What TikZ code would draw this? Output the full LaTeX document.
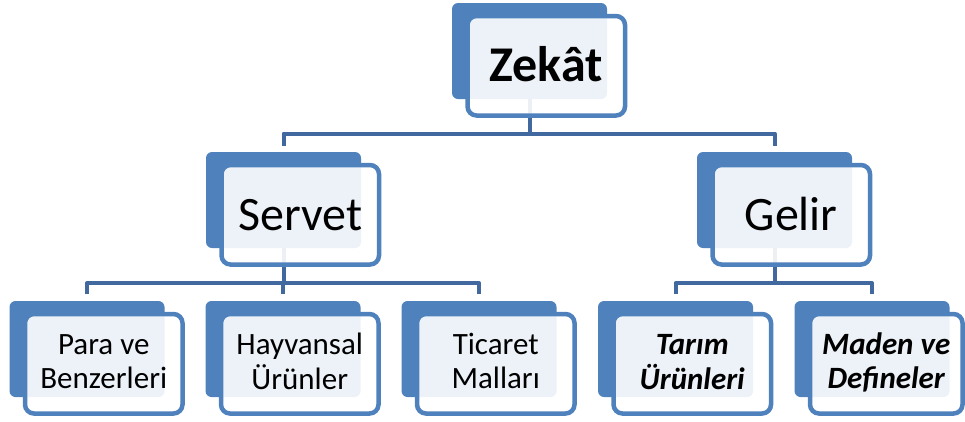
\documentclass[tikz,border=0pt]{standalone}
\usepackage{fontspec}
\setmainfont{Carlito}
\usetikzlibrary{backgrounds}
\definecolor{bk}{HTML}{4F81BD}
\definecolor{cn}{HTML}{41699F}
\newcommand\twoln[2]{\begin{tabular}[t]{@{}c@{}}#1\\#2\end{tabular}}
\begin{document}
\begin{tikzpicture}[x=1pt,y=-1pt,
  backbox/.style={rectangle, rounded corners=6pt, fill=bk, minimum width=155pt, minimum height=96pt, anchor=north west, inner sep=0pt, outer sep=0pt},
  framebox/.style={rectangle, rounded corners=9pt, draw=bk, line width=4.5pt, fill=white, fill opacity=0.9, minimum width=157.5pt, minimum height=99.5pt, anchor=north west, inner sep=0pt, outer sep=0pt},
  bigtxt/.style={font=\fontsize{48}{56}\selectfont, text=black, anchor=base, inner sep=0pt},
  smalltxt/.style={font=\fontsize{31}{34.5}\selectfont, text=black, anchor=base, inner sep=0pt},
  conn/.style={draw=cn, line width=4pt, line join=round}]
\useasboundingbox (0,0) rectangle (965,421);
\coordinate (h1) at (0,133.5);
\coordinate (h2) at (0,283);
% back boxes
\node[backbox] (zb) at (452,3) {};
\node[backbox] (sb) at (206,152) {};
\node[backbox] (gb) at (697,152) {};
\node[backbox] (pb) at (9.5,301) {};
\node[backbox] (hb) at (205.5,301) {};
\node[backbox] (tb) at (401.5,301) {};
\node[backbox] (tab) at (598,301) {};
\node[backbox] (mb) at (794.5,301) {};
% frames
\node[framebox] (zf) at (467.5,16) {};
\node[framebox] (sf) at (221.5,165) {};
\node[framebox] (gf) at (712.5,165) {};
\node[framebox] (pf) at (25,314) {};
\node[framebox] (hf) at (221,314) {};
\node[framebox] (tf) at (417,314) {};
\node[framebox] (taf) at (613.5,314) {};
\node[framebox, minimum width=152.5pt] (mf) at (810,314) {};
% connectors (below boxes)
\begin{pgfonlayer}{background}
\draw[conn] (zb.south) -- (zb.south |- h1);
\draw[conn, shorten <=6pt, shorten >=6pt] (sb.north) -- (sb.north |- h1) -- (gb.north |- h1) -- (gb.north);
\draw[conn] (sb.south) -- (sb.south |- h2);
\draw[conn, shorten <=7pt, shorten >=7pt] (pb.north) -- (pb.north |- h2) -- (tb.north |- h2) -- (tb.north);
\draw[conn, shorten >=7pt] (hb.north |- h2) -- (hb.north);
\draw[conn] (gb.south) -- (gb.south |- h2);
\draw[conn, shorten <=7pt, shorten >=7pt] (tab.north) -- (tab.north |- h2) -- (mb.north |- h2) -- (mb.north);
\end{pgfonlayer}
% texts
\node[bigtxt, font=\fontsize{50}{58}\selectfont\bfseries] (zt) at ([yshift=-16pt]zf.center) {Zekât};
\node[bigtxt] (st) at ([yshift=-15.5pt]sf.center) {Servet};
\node[bigtxt] (gt) at ([yshift=-15.5pt]gf.center) {Gelir};
\node[smalltxt] (pt) at ([yshift=9.5pt]pf.center) {\twoln{Para ve}{Benzerleri}};
\node[smalltxt] (ht) at ([yshift=9.5pt]hf.center) {\twoln{Hayvansal}{Ürünler}};
\node[smalltxt] (tt) at ([yshift=9.5pt]tf.center) {\twoln{Ticaret}{Malları}};
\node[smalltxt, font=\fontsize{31}{34.5}\selectfont\bfseries\itshape] (tat) at ([yshift=9.5pt]taf.center) {\twoln{Tarım}{Ürünleri}};
\node[smalltxt, font=\fontsize{31}{34.5}\selectfont\bfseries\itshape] (mt) at ([yshift=9.5pt]mf.center) {\twoln{Maden ve}{Defineler}};
\end{tikzpicture}
\end{document}
